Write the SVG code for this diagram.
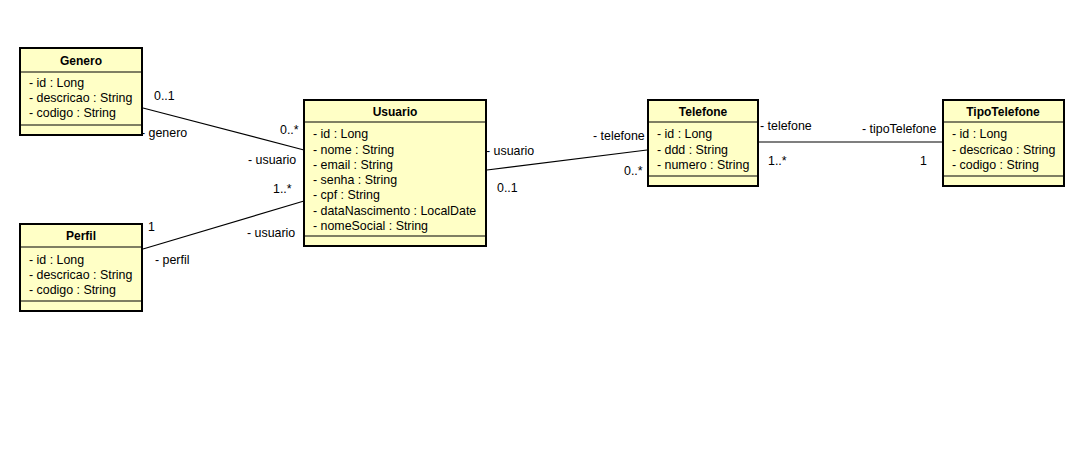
<svg xmlns="http://www.w3.org/2000/svg" width="1077" height="451" viewBox="0 0 1077 451">
<style>
.box{fill:#FFFFC6;stroke:#000;stroke-width:2}
.div{stroke:#000;stroke-width:1.2}
.t{font-family:"Liberation Sans",Arial,sans-serif;font-size:12.4px;fill:#000}
.b{font-weight:bold;text-anchor:middle;font-size:12px}
.c{stroke:#000;stroke-width:1.2;fill:none}
</style>
<rect width="1077" height="451" fill="#fff"/>
<g id="connectors">
<line class="c" x1="143" y1="108" x2="304" y2="150"/>
<line class="c" x1="143" y1="249" x2="304" y2="201"/>
<line class="c" x1="487" y1="170" x2="647" y2="150"/>
<line class="c" x1="758" y1="142" x2="942" y2="142"/>
<text class="t" x="154" y="100">0..1</text>
<text class="t" x="141" y="137">- genero</text>
<text class="t" x="280" y="134">0..*</text>
<text class="t" x="248" y="164">- usuario</text>
<text class="t" x="273" y="193">1..*</text>
<text class="t" x="148" y="231">1</text>
<text class="t" x="247" y="237">- usuario</text>
<text class="t" x="155" y="264">- perfil</text>
<text class="t" x="486" y="155">- usuario</text>
<text class="t" x="497" y="192">0..1</text>
<text class="t" x="593" y="140">- telefone</text>
<text class="t" x="624" y="175">0..*</text>
<text class="t" x="760" y="130">- telefone</text>
<text class="t" x="768" y="165">1..*</text>
<text class="t" x="862" y="133">- tipoTelefone</text>
<text class="t" x="920" y="165">1</text>
</g>
<g id="Genero">
<rect class="box" x="20" y="48" width="122" height="87"/>
<line class="div" x1="20" y1="72" x2="142" y2="72"/>
<line class="div" x1="20" y1="125" x2="142" y2="125"/>
<text class="t b" x="81" y="65">Genero</text>
<text class="t" x="29" y="87">- id : Long</text>
<text class="t" x="29" y="102">- descricao : String</text>
<text class="t" x="29" y="117">- codigo : String</text>
</g>
<g id="Perfil">
<rect class="box" x="20" y="224" width="122" height="87"/>
<line class="div" x1="20" y1="247" x2="142" y2="247"/>
<line class="div" x1="20" y1="301" x2="142" y2="301"/>
<text class="t b" x="81" y="240">Perfil</text>
<text class="t" x="29" y="264">- id : Long</text>
<text class="t" x="29" y="279">- descricao : String</text>
<text class="t" x="29" y="294">- codigo : String</text>
</g>
<g id="Usuario">
<rect class="box" x="304" y="100" width="182" height="146"/>
<line class="div" x1="304" y1="122" x2="486" y2="122"/>
<line class="div" x1="304" y1="236" x2="486" y2="236"/>
<text class="t b" x="395" y="116">Usuario</text>
<text class="t" x="313" y="138">- id : Long</text>
<text class="t" x="313" y="154">- nome : String</text>
<text class="t" x="313" y="169">- email : String</text>
<text class="t" x="313" y="184">- senha : String</text>
<text class="t" x="313" y="199">- cpf : String</text>
<text class="t" x="313" y="215">- dataNascimento : LocalDate</text>
<text class="t" x="313" y="230">- nomeSocial : String</text>
</g>
<g id="Telefone">
<rect class="box" x="648" y="100" width="110" height="86"/>
<line class="div" x1="648" y1="122" x2="758" y2="122"/>
<line class="div" x1="648" y1="176" x2="758" y2="176"/>
<text class="t b" x="703" y="116">Telefone</text>
<text class="t" x="657" y="138">- id : Long</text>
<text class="t" x="657" y="154">- ddd : String</text>
<text class="t" x="657" y="169">- numero : String</text>
</g>
<g id="TipoTelefone">
<rect class="box" x="943" y="100" width="121" height="86"/>
<line class="div" x1="943" y1="122" x2="1064" y2="122"/>
<line class="div" x1="943" y1="176" x2="1064" y2="176"/>
<text class="t b" x="1003" y="116">TipoTelefone</text>
<text class="t" x="952" y="138">- id : Long</text>
<text class="t" x="952" y="154">- descricao : String</text>
<text class="t" x="952" y="169">- codigo : String</text>
</g>
</svg>
